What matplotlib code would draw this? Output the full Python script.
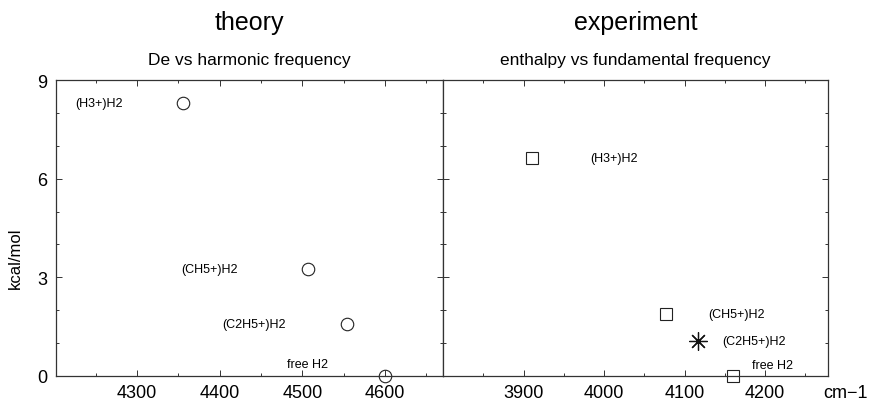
import matplotlib
matplotlib.use("Agg")
import matplotlib.pyplot as plt
from matplotlib.ticker import MultipleLocator, FixedLocator

plt.rcParams["font.family"] = ["Liberation Sans", "DejaVu Sans"]

# theory: De vs harmonic frequency
th_names = ["(H3+)H2", "(CH5+)H2", "(C2H5+)H2", "free H2"]
th_freq = [4356, 4507, 4554, 4600]
th_de = [8.3, 3.25, 1.58, 0.0]
th_label_x = [4225, 4353, 4403, 4481]
th_label_y = [8.3, 3.25, 1.58, 0.36]
th_ticks = [4300, 4400, 4500, 4600]

# experiment: enthalpy vs fundamental frequency
ex_names = ["(H3+)H2", "(CH5+)H2", "(C2H5+)H2", "free H2"]
ex_freq = [3911, 4077, 4116, 4160]
ex_dh = [6.63, 1.88, 1.06, 0.0]
ex_marker = ["s", "s", "*", "s"]
ex_label_x = [3983, 4129, 4147, 4184]
ex_label_y = [6.63, 1.88, 1.06, 0.33]
ex_ticks = [3900, 4000, 4100, 4200]

y_ticks = [0, 3, 6, 9]

fig = plt.figure(figsize=(8.7, 4.02), dpi=100)
ax1 = fig.add_axes([0.0644, 0.0622, 0.4448, 0.7363])
ax2 = fig.add_axes([0.5092, 0.0622, 0.4425, 0.7363])

edge = "#333333"
for ax, xt in ((ax1, th_ticks), (ax2, ex_ticks)):
    ax.set_ylim(0, 9)
    ax.yaxis.set_major_locator(FixedLocator(y_ticks))
    ax.yaxis.set_minor_locator(MultipleLocator(1))
    ax.xaxis.set_major_locator(FixedLocator(xt))
    ax.xaxis.set_minor_locator(MultipleLocator(50))
    ax.tick_params(which="both", direction="in", top=True, right=True,
                   color=edge, width=0.7, labelsize=13)
    ax.tick_params(which="major", length=4, pad=6)
    ax.tick_params(which="minor", length=2)
    for s in ax.spines.values():
        s.set_color(edge)
        s.set_linewidth(0.9)

ax1.set_xlim(4202, 4670)
ax2.set_xlim(3800, 4278)
ax2.tick_params(labelleft=False)

# theory panel
ax1.plot(th_freq, th_de, "o", ms=9, mfc="none", mec="#222222", mew=0.8,
         clip_on=False)
for n, x, y in zip(th_names, th_label_x, th_label_y):
    ax1.text(x, y, n, fontsize=9, va="center", ha="left")

# experiment panel
for f, h, m in zip(ex_freq, ex_dh, ex_marker):
    if m == "*":
        ax2.plot(f, h, marker=(8, 2, 0), ms=13, color="#111111", mew=0.9,
                 clip_on=False)
    else:
        ax2.plot(f, h, "s", ms=8, mfc="none", mec="#222222", mew=0.8,
                 clip_on=False)
for n, x, y in zip(ex_names, ex_label_x, ex_label_y):
    ax2.text(x, y, n, fontsize=9, va="center", ha="left")

ax1.set_ylabel("kcal/mol", fontsize=12)
ax1.yaxis.set_label_coords(-0.085, 0.4)

ax1.text(0.5, 1.195, "theory", transform=ax1.transAxes, ha="center",
         va="center", fontsize=18)
ax1.text(0.5, 1.07, "De vs harmonic frequency", transform=ax1.transAxes,
         ha="center", va="center", fontsize=12.5)
ax2.text(0.5, 1.195, "experiment", transform=ax2.transAxes, ha="center",
         va="center", fontsize=18)
ax2.text(0.5, 1.07, "enthalpy vs fundamental frequency", transform=ax2.transAxes,
         ha="center", va="center", fontsize=12.5)

fig.text(0.972, 0.02, "cm\u22121", ha="center", va="center", fontsize=13)

fig.savefig("out.png", dpi=100, facecolor="white")
